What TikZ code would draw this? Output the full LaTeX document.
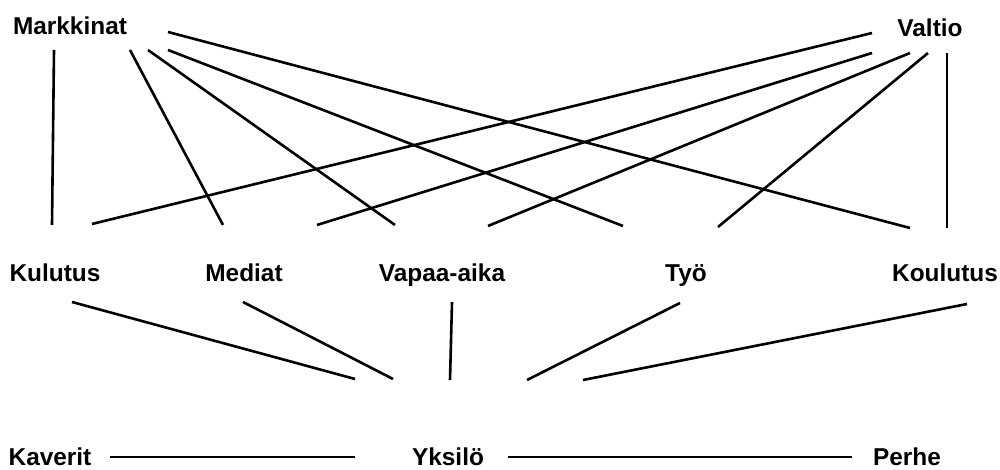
\documentclass[tikz,border=0pt]{standalone}
\usepackage{fontspec}
\setmainfont{Liberation Sans}
\usepackage{tikz}

\begin{document}
\begin{tikzpicture}[x=1pt, y=1pt,
    lbl/.style={anchor=base, inner sep=0pt, font=\fontsize{12.2}{14}\selectfont\bfseries},
    link/.style={line width=1.3pt}]
    \useasboundingbox (0,0) rectangle (500,235);

    % Top level
    \node[lbl] (mark) at (35, 217.5) {Markkinat};
    \node[lbl] (valt) at (465, 216.5) {Valtio};

    % Middle level
    \node[lbl] (kul) at (27.5, 94) {Kulutus};
    \node[lbl] (med) at (122, 94) {Mediat};
    \node[lbl] (vap) at (221, 94) {Vapaa-aika};
    \node[lbl] (tyo) at (343, 94) {Työ};
    \node[lbl] (kou) at (472.5, 94) {Koulutus};

    % Bottom level
    \node[lbl] (kav) at (25, 2) {Kaverit};
    \node[lbl] (yks) at (224, 2) {Yksilö};
    \node[lbl] (per) at (453.5, 2) {Perhe};

    % Markkinat links
    \draw[link] ([shift={(-8,-7.5)}]mark.base) -- ([shift={(-1.5,28.5)}]kul.base);
    \draw[link] ([shift={(30,-7.5)}]mark.base) -- ([shift={(-10.5,28.5)}]med.base);
    \draw[link] ([shift={(39,-7.5)}]mark.base) -- ([shift={(-23.5,28.5)}]vap.base);
    \draw[link] ([shift={(49,-7.5)}]mark.base) -- ([shift={(-31.5,28)}]tyo.base);
    \draw[link] ([shift={(49,1.5)}]mark.base) -- ([shift={(-17.5,27)}]kou.base);

    % Valtio links
    \draw[link] ([shift={(-29,2)}]valt.base) -- ([shift={(18.5,29)}]kul.base);
    \draw[link] ([shift={(-29,-8)}]valt.base) -- ([shift={(36.5,28.5)}]med.base);
    \draw[link] ([shift={(-10,-8)}]valt.base) -- ([shift={(23,28)}]vap.base);
    \draw[link] ([shift={(-1,-8)}]valt.base) -- ([shift={(16,27.5)}]tyo.base);
    \draw[link] ([shift={(8.5,-8)}]valt.base) -- ([shift={(1,27)}]kou.base);

    % Links to Yksilö
    \draw[link] ([shift={(8.5,-10)}]kul.base) -- ([shift={(-46.5,43.5)}]yks.base);
    \draw[link] ([shift={(-0.5,-10)}]med.base) -- ([shift={(-27.5,43.5)}]yks.base);
    \draw[link] ([shift={(5,-10)}]vap.base) -- ([shift={(1,43)}]yks.base);
    \draw[link] ([shift={(-3,-10.5)}]tyo.base) -- ([shift={(39.5,43)}]yks.base);
    \draw[link] ([shift={(11,-11)}]kou.base) -- ([shift={(67.5,43)}]yks.base);

    % Bottom row
    \draw[link] ([shift={(30,4.5)}]kav.base) -- ([shift={(-46.5,4.5)}]yks.base);
    \draw[link] ([shift={(30,4.5)}]yks.base) -- ([shift={(-27.5,4.5)}]per.base);
\end{tikzpicture}
\end{document}
